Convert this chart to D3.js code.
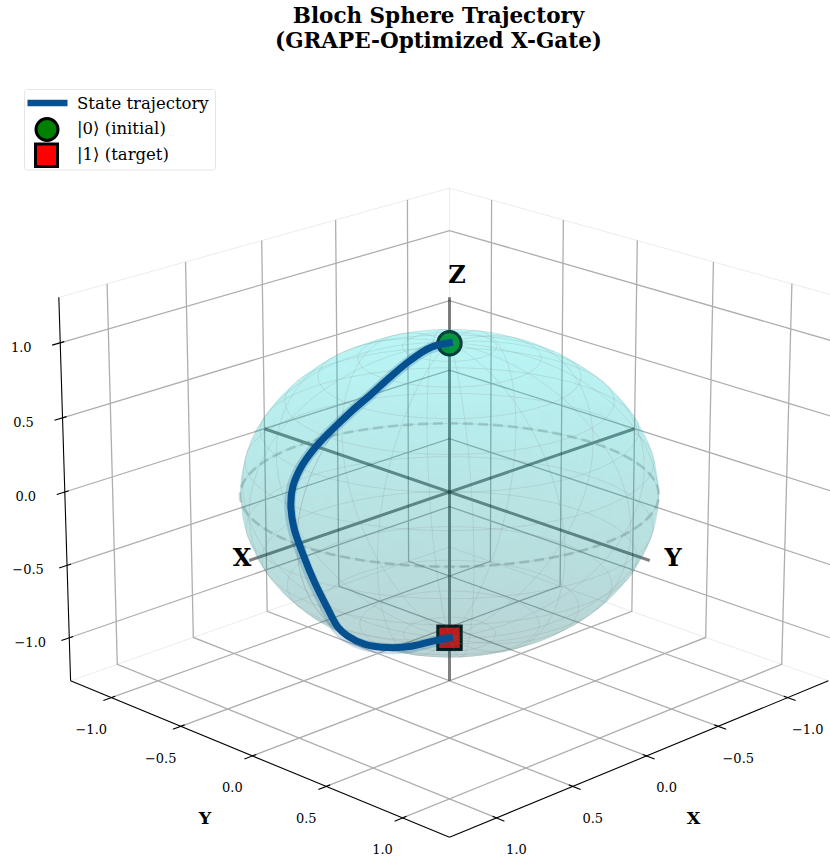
<!DOCTYPE html>
<html>
<head>
<meta charset="utf-8">
<script src="https://cdn.jsdelivr.net/npm/d3@7"></script>
<style>
  body { margin: 0; background: #fff; }
  text { font-family: "DejaVu Serif", serif; fill: #000; }
</style>
</head>
<body>
<div id="chart"></div>
<script>
const titleLines = ['Bloch Sphere Trajectory', '(GRAPE-Optimized X-Gate)'];
const tickValues = [-1, -0.5, 0, 0.5, 1];
const legendLabels = ['State trajectory', '|0⟩ (initial)', '|1⟩ (target)'];

// Bloch vector, |0> to |1>
const trajX = [0, 0.104, 0.255, 0.403, 0.534, 0.642, 0.741, 0.816, 0.873, 0.917, 0.946, 0.966, 0.967, 0.936, 0.864, 0.735, 0.61, 0.56, 0.49, 0.375, 0.162, 0];
const trajY = [0, -0.022, -0.002, 0.017, 0.018, -0.004, -0.037, -0.075, -0.104, -0.113, -0.096, -0.055, 0.007, 0.049, 0.056, -0.01, -0.075, -0.007, 0.079, 0.12, 0.036, 0];
const trajZ = [1, 0.994, 0.965, 0.91, 0.834, 0.749, 0.644, 0.536, 0.424, 0.308, 0.202, 0.075, -0.08, -0.258, -0.45, -0.652, -0.785, -0.836, -0.852, -0.871, -0.952, -1];

const L = 1.3; // axis limits
const width = 830, height = 865;
const trajColor = '#05508f';

// same camera as a matplotlib 3d axes: elev 20, azim 45, dist 10, box 4:4:3
const elev = 20 * Math.PI / 180, azim = 45 * Math.PI / 180, dist = 10;
const boxScale = 1.8294640721620434 * 25 / 24 / Math.sqrt(41);
const box = [4 * boxScale, 4 * boxScale, 3 * boxScale];
const w = [Math.cos(elev) * Math.cos(azim), Math.cos(elev) * Math.sin(azim), Math.sin(elev)];
const u = [-Math.sin(azim), Math.cos(azim), 0];
const v = [-Math.sin(elev) * Math.cos(azim), -Math.sin(elev) * Math.sin(azim), Math.cos(elev)];
const dot = (a, b) => a[0] * b[0] + a[1] * b[1] + a[2] * b[2];

const sx = d3.scaleLinear().domain([0, 1]).range([449.5, 449.5 + 4570]);
const sy = d3.scaleLinear().domain([0, 1]).range([492, 492 - 4570]);

function world(p) {
  return p.map((c, i) => c / (2 * L) * box[i]);
}
function depth(p) {
  return dot(world(p), w);
}
function project(p) {
  const q = world(p);
  const d = dist - dot(q, w);
  return [sx(dot(q, u) / d), sy(dot(q, v) / d)];
}

const line3d = d3.line().x(p => project(p)[0]).y(p => project(p)[1]);

const svg = d3.select('#chart').append('svg')
  .attr('width', width)
  .attr('height', height)
  .style('display', 'block');

// Panes
const paneEdges = [
  [[L, -L, L], [-L, -L, L], [-L, L, L]],
  [[L, -L, -L], [-L, -L, -L], [-L, L, -L]],
  [[-L, -L, -L], [-L, -L, L]]
];
svg.append('g').selectAll('path').data(paneEdges).join('path')
  .attr('d', line3d)
  .attr('fill', 'none')
  .attr('stroke', '#ececec')
  .attr('stroke-width', 1);

// Grid
const gridLines = [];
tickValues.forEach(t => {
  gridLines.push([[t, L, -L], [t, -L, -L], [t, -L, L]]);
  gridLines.push([[L, t, -L], [-L, t, -L], [-L, t, L]]);
  gridLines.push([[L, -L, t], [-L, -L, t], [-L, L, t]]);
});
svg.append('g').selectAll('path').data(gridLines).join('path')
  .attr('d', line3d)
  .attr('fill', 'none')
  .attr('stroke', '#aeaeae')
  .attr('stroke-width', 1.3);

// Axis spines and ticks
const spines = [
  [[L, -L, -L], [L, -L, L]],
  [[-L, L, -L], [L, L, -L]],
  [[L, -L, -L], [L, L, -L]]
];
const tickMarks = [];
tickValues.forEach(t => {
  tickMarks.push([[L + 0.05, -L, t], [L - 0.025, -L, t]]);
  tickMarks.push([[t, L + 0.05, -L], [t, L - 0.025, -L]]);
  tickMarks.push([[L + 0.05, t, -L], [L - 0.025, t, -L]]);
});
svg.append('g').selectAll('path').data(spines.concat(tickMarks)).join('path')
  .attr('d', line3d)
  .attr('fill', 'none')
  .attr('stroke', '#000')
  .attr('stroke-width', 1.1);

// Tick labels
const fmt = d3.format('.1f');
const tickLabels = [];
tickValues.forEach(t => {
  const pz = project([L, -L, t]);
  tickLabels.push({ x: pz[0] - 39, y: pz[1] + 4.5, t });
  const px = project([t, L, -L]);
  tickLabels.push({ x: px[0] + 20, y: px[1] + 32, t });
  const py = project([L, t, -L]);
  tickLabels.push({ x: py[0] - 20, y: py[1] + 32, t });
});
svg.append('g').selectAll('text').data(tickLabels).join('text')
  .attr('x', d => d.x)
  .attr('y', d => d.y)
  .attr('dy', '0.35em')
  .attr('text-anchor', 'middle')
  .attr('font-size', 13)
  .text(d => fmt(d.t));

svg.append('text').attr('x', 693.5).attr('y', 818).attr('dy', '0.35em')
  .attr('text-anchor', 'middle').attr('font-size', 17.5).attr('font-weight', 'bold').text('X');
svg.append('text').attr('x', 205).attr('y', 818).attr('dy', '0.35em')
  .attr('text-anchor', 'middle').attr('font-size', 17.5).attr('font-weight', 'bold').text('Y');

// Bloch axes and equator sit under the surface
const blochAxes = [
  [[-L, 0, 0], [L, 0, 0]],
  [[0, -L, 0], [0, L, 0]],
  [[0, 0, -L], [0, 0, L]]
];
svg.append('g').selectAll('path').data(blochAxes).join('path')
  .attr('d', line3d)
  .attr('fill', 'none')
  .attr('stroke', '#000')
  .attr('stroke-opacity', 0.5)
  .attr('stroke-width', 3);

const equator = d3.range(0, 361, 3).map(a => [Math.cos(a * Math.PI / 180), Math.sin(a * Math.PI / 180), 0]);
svg.append('path')
  .attr('d', line3d(equator))
  .attr('fill', 'none')
  .attr('stroke', '#808080')
  .attr('stroke-opacity', 0.32)
  .attr('stroke-width', 2.8)
  .attr('stroke-dasharray', '10,5');

// Start and target markers
const p0 = project([0, 0, 1]);
const p1 = project([0, 0, -1]);
svg.append('circle')
  .attr('cx', p0[0]).attr('cy', p0[1] + 0.5).attr('r', 11.7)
  .attr('fill', 'green').attr('stroke', '#000').attr('stroke-width', 3);
svg.append('rect')
  .attr('x', p1[0] - 11.7).attr('y', p1[1] - 11.7).attr('width', 23.4).attr('height', 23.4)
  .attr('fill', 'red').attr('stroke', '#000').attr('stroke-width', 3);

// Sphere surface, 50 x 50 mesh
const n = 50;
const us = d3.range(n).map(i => 2 * Math.PI * i / (n - 1));
const vs = d3.range(n).map(i => Math.PI * i / (n - 1));
const pt = (a, b) => [Math.cos(a) * Math.sin(b), Math.sin(a) * Math.sin(b), Math.cos(b)];
const light = [-0.6667, -0.6667, 0.3333];
const quads = [];
for (let i = 0; i < n - 1; i++) {
  for (let j = 0; j < n - 1; j++) {
    const corners = [pt(us[i], vs[j]), pt(us[i + 1], vs[j]), pt(us[i + 1], vs[j + 1]), pt(us[i], vs[j + 1])];
    const mid = [0, 1, 2].map(k => d3.mean(corners, c => c[k]));
    const len = Math.hypot(mid[0], mid[1], mid[2]);
    const shade = 0.3 + 0.7 * (dot(mid, light) / len + 1) / 2;
    quads.push({ corners, shade, depth: depth(mid) });
  }
}
quads.sort((a, b) => a.depth - b.depth);
svg.append('g').selectAll('path').data(quads).join('path')
  .attr('d', d => line3d(d.corners) + 'Z')
  .attr('fill', d => d3.rgb(0, 255 * d.shade, 255 * d.shade))
  .attr('fill-opacity', 0.15)
  .attr('stroke', 'none');

// Wireframe, 15 lines each way
const wireSteps = d3.range(15).map(i => i / 14);
const wire = [];
wireSteps.forEach(t => wire.push(us.map(a => pt(a, t * Math.PI))));
wireSteps.forEach(t => wire.push(vs.map(b => pt(t * 2 * Math.PI, b))));
svg.append('g').selectAll('path').data(wire).join('path')
  .attr('d', line3d)
  .attr('fill', 'none')
  .attr('stroke', '#808080')
  .attr('stroke-opacity', 0.3)
  .attr('stroke-width', 0.6);

// Trajectory
const trajectory = trajX.map((x, i) => [x, trajY[i], trajZ[i]]);
const trajLine = d3.line()
  .x(p => project(p)[0])
  .y(p => project(p)[1])
  .curve(d3.curveCatmullRom.alpha(0.5));
svg.append('path')
  .attr('d', trajLine(trajectory))
  .attr('transform', 'translate(-1,1)')
  .attr('fill', 'none')
  .attr('stroke', trajColor)
  .attr('stroke-opacity', 0.2)
  .attr('stroke-width', 11);
svg.append('path')
  .attr('d', trajLine(trajectory))
  .attr('fill', 'none')
  .attr('stroke', trajColor)
  .attr('stroke-width', 7)
  .attr('stroke-linecap', 'square');

// Labels at the ends of the Bloch axes
const axisLabels = [
  { name: 'X', x: 242, y: 558 },
  { name: 'Y', x: 673, y: 558 },
  { name: 'Z', x: 457, y: 275 }
];
svg.append('g').selectAll('text').data(axisLabels).join('text')
  .attr('x', d => d.x)
  .attr('y', d => d.y)
  .attr('dy', '0.35em')
  .attr('text-anchor', 'middle')
  .attr('font-size', 24)
  .attr('font-weight', 'bold')
  .text(d => d.name);

// Title
svg.append('g').selectAll('text').data(titleLines).join('text')
  .attr('x', 438.5)
  .attr('y', (d, i) => 23 + i * 25)
  .attr('text-anchor', 'middle')
  .attr('font-size', 21.5)
  .attr('font-weight', 'bold')
  .text(d => d);

// Legend
const legend = svg.append('g');
legend.append('rect')
  .attr('x', 24.5).attr('y', 89.5).attr('width', 191).attr('height', 80.5).attr('rx', 3)
  .attr('fill', '#fff').attr('stroke', '#e6e6e6').attr('stroke-width', 1);
legend.append('line')
  .attr('x1', 27.5).attr('x2', 67.5).attr('y1', 103).attr('y2', 103)
  .attr('stroke', trajColor).attr('stroke-width', 6.5);
legend.append('circle')
  .attr('cx', 47).attr('cy', 129.5).attr('r', 11)
  .attr('fill', 'green').attr('stroke', '#000').attr('stroke-width', 3);
legend.append('rect')
  .attr('x', 35.5).attr('y', 144).attr('width', 22).attr('height', 22.5)
  .attr('fill', 'red').attr('stroke', '#000').attr('stroke-width', 3);
legend.selectAll('text').data(legendLabels).join('text')
  .attr('x', 77)
  .attr('y', (d, i) => 108.5 + i * 25.5)
  .attr('font-size', 16.5)
  .text(d => d);
</script>
</body>
</html>
